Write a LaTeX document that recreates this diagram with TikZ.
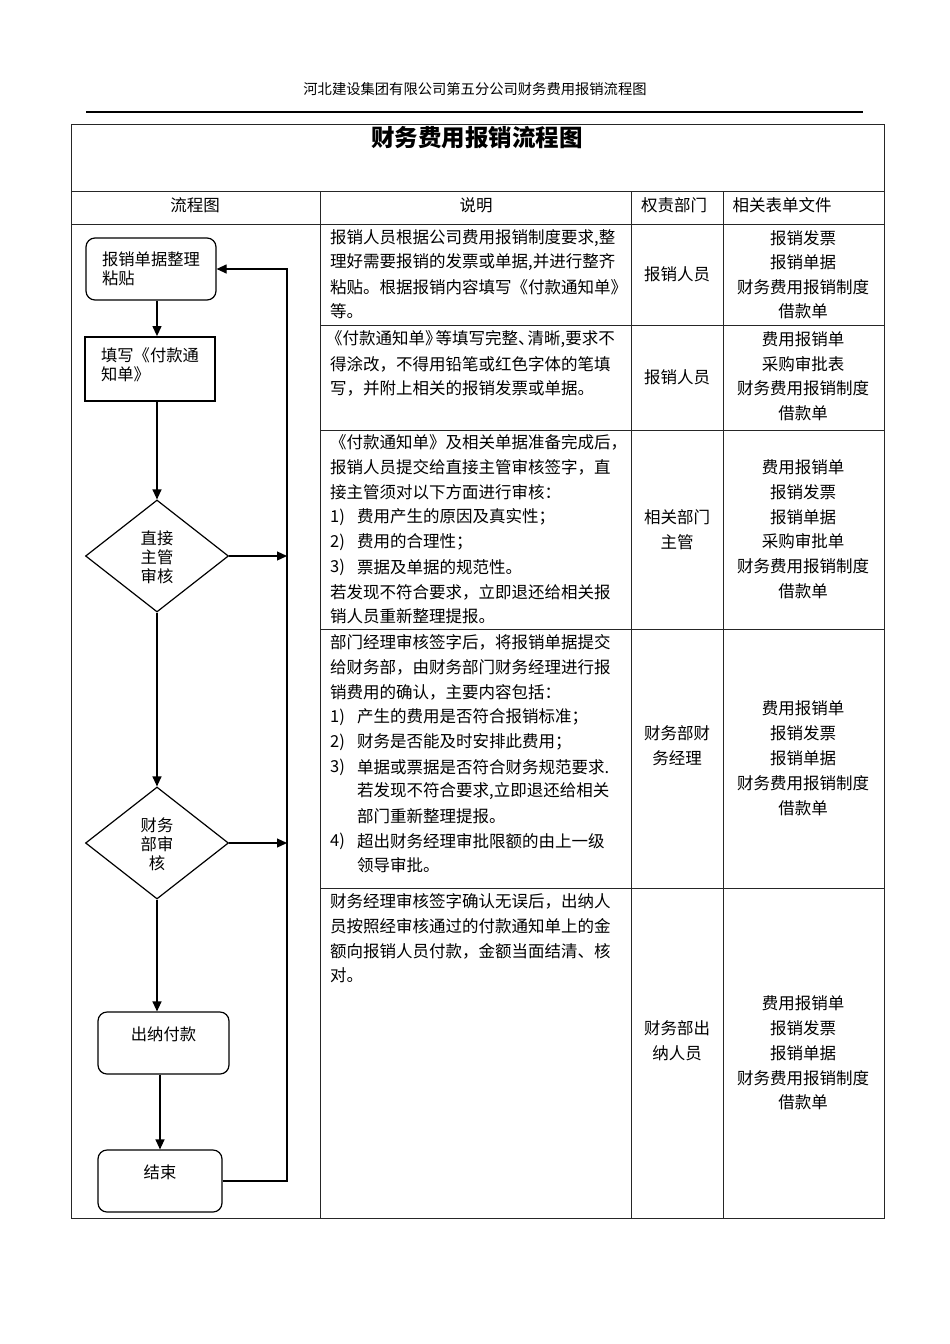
\documentclass[tikz,border=0pt]{standalone}
\usepackage{fontspec}
\setmainfont{Noto Sans CJK SC}
\usetikzlibrary{shapes.geometric,arrows.meta}
\newcommand\fsbody{\fontsize{16.5}{25}\selectfont}
\newcommand\fsflow{\fontsize{16.3}{19}\selectfont}
\newcommand\dline[4]{\node[txt] (#1) at (#2,#3) {#4};}
\newcommand\ctrline[4]{\node[ctr] (#1) at (#2,#3) {#4};}
\begin{document}
\begin{tikzpicture}[x=1pt,y=-1pt,
  txt/.style={anchor=west,inner sep=0pt,font=\fsbody},
  ctr/.style={anchor=center,inner sep=0pt,font=\fsbody},
  grid/.style={line width=1pt,draw=black!85},
  flowline/.style={line width=1.2pt},
  arr/.style={flowline,-{Triangle[length=10pt,width=9pt]}},
  rbox/.style={draw,rounded corners=9pt,line width=1.2pt,inner sep=0pt,font=\fsflow,align=left},
  sbox/.style={draw,line width=1.8pt,inner sep=0pt,font=\fsflow,align=left},
  dia/.style={draw,diamond,line width=1.2pt,inner sep=0pt,font=\fsflow,align=center,minimum width=143pt,minimum height=112pt}
]
\useasboundingbox[fill=white] (0,0) rectangle (950,1344);

% page header
\node[inner sep=0pt,font=\fontsize{14.3}{16}\selectfont] (pagehead) at (475,89) {河北建设集团有限公司第五分公司财务费用报销流程图};
\draw[line width=1.5pt] (86,112) -- (863,112);

% table
\draw[grid] (71,124) rectangle (884,1218);
\draw[grid] (71,191) -- (884,191);
\draw[grid] (71,224) -- (884,224);
\draw[grid] (320,191) -- (320,1218);
\draw[grid] (631,191) -- (631,1218);
\draw[grid] (723,191) -- (723,1218);
\foreach \yy in {325,430,629,888} \draw[grid] (320,\yy) -- (884,\yy);

\node[inner sep=0pt,font=\fontsize{23.5}{26}\selectfont\bfseries] (title) at (477,138) {财务费用报销流程图};
\ctrline{h1}{195}{205}{流程图}
\ctrline{h2}{476}{205}{说明}
\ctrline{h3}{674}{205}{权责部门}
\ctrline{h4}{782}{205}{相关表单文件}

% row 1
\dline{a1}{330}{238}{报销人员根据公司费用报销制度要求,整}
\dline{a2}{330}{262}{理好需要报销的发票或单据,并进行整齐}
\dline{a3}{330}{287}{粘贴。根据报销内容填写《付款通知单》}
\dline{a4}{330}{311}{等。}
\ctrline{ar}{677}{274}{报销人员}
\ctrline{af1}{803}{238}{报销发票}
\ctrline{af2}{803}{262}{报销单据}
\ctrline{af3}{803}{287}{财务费用报销制度}
\ctrline{af4}{803}{311}{借款单}

% row 2
\dline{b1t}{330}{339}{\hspace{-4pt}《付款通知单》\hspace{-6pt}等填写完整、\hspace{-7pt}清晰,要求不}
\dline{b2t}{330}{364}{得涂改，不得用铅笔或红色字体的笔填}
\dline{b3t}{330}{388}{写，并附上相关的报销发票或单据。}
\ctrline{br}{677}{377}{报销人员}
\ctrline{bf1}{803}{339}{费用报销单}
\ctrline{bf2}{803}{364}{采购审批表}
\ctrline{bf3}{803}{388}{财务费用报销制度}
\ctrline{bf4}{803}{413}{借款单}

% row 3
\dline{c1}{330}{442}{《付款通知单》及相关单据准备完成后，}
\dline{c2}{330}{467}{报销人员提交给直接主管审核签字，直}
\dline{c3}{330}{492}{接主管须对以下方面进行审核：}
\dline{c4}{330}{517}{1)}
\dline{c4b}{357}{517}{费用产生的原因及真实性；}
\dline{c5}{330}{542}{2)}
\dline{c5b}{357}{542}{费用的合理性；}
\dline{c6}{330}{567}{3)}
\dline{c6b}{357}{567}{票据及单据的规范性。}
\dline{c7}{330}{592}{若发现不符合要求，立即退还给相关报}
\dline{c8}{330}{616}{销人员重新整理提报。}
\ctrline{cr1}{677}{517}{相关部门}
\ctrline{cr2}{677}{542}{主管}
\ctrline{cf1}{803}{467}{费用报销单}
\ctrline{cf2}{803}{492}{报销发票}
\ctrline{cf3}{803}{517}{报销单据}
\ctrline{cf4}{803}{541}{采购审批单}
\ctrline{cf5}{803}{566}{财务费用报销制度}
\ctrline{cf6}{803}{591}{借款单}

% row 4
\dline{d1}{330}{642}{部门经理审核签字后，将报销单据提交}
\dline{d2}{330}{667}{给财务部，由财务部门财务经理进行报}
\dline{d3}{330}{692}{销费用的确认，主要内容包括：}
\dline{d4}{330}{717}{1)}
\dline{d4b}{357}{717}{产生的费用是否符合报销标准；}
\dline{d5}{330}{742}{2)}
\dline{d5b}{357}{742}{财务是否能及时安排此费用；}
\dline{d6}{330}{767}{3)}
\dline{d6b}{357}{767}{单据或票据是否符合财务规范要求.}
\dline{d7}{357}{791}{若发现不符合要求,立即退还给相关}
\dline{d8}{357}{816}{部门重新整理提报。}
\dline{d9}{330}{841}{4)}
\dline{d9b}{357}{841}{超出财务经理审批限额的由上一级}
\dline{d10}{357}{865}{领导审批。}
\ctrline{dr1}{677}{733}{财务部财}
\ctrline{dr2}{677}{758}{务经理}
\ctrline{df1}{803}{708}{费用报销单}
\ctrline{df2}{803}{733}{报销发票}
\ctrline{df3}{803}{758}{报销单据}
\ctrline{df4}{803}{783}{财务费用报销制度}
\ctrline{df5}{803}{808}{借款单}

% row 5
\dline{e1}{330}{901}{财务经理审核签字确认无误后，出纳人}
\dline{e2}{330}{926}{员按照经审核通过的付款通知单上的金}
\dline{e3}{330}{951}{额向报销人员付款，金额当面结清、核}
\dline{e4}{330}{975}{对。}
\ctrline{er1}{677}{1028}{财务部出}
\ctrline{er2}{677}{1053}{纳人员}
\ctrline{ef1}{803}{1003}{费用报销单}
\ctrline{ef2}{803}{1028}{报销发票}
\ctrline{ef3}{803}{1053}{报销单据}
\ctrline{ef4}{803}{1078}{财务费用报销制度}
\ctrline{ef5}{803}{1102}{借款单}

% flowchart
\node[rbox,minimum width=130pt,minimum height=62pt] (s1) at (151,269) {报销单据整理\\粘贴};
\node[sbox,minimum width=130pt,minimum height=64pt] (s2) at (150,369) {填写《付款通\\知单》\\[-10pt]\mbox{}};
\node[dia] (q1) at (157,556) {\mbox{}\\[-3pt]直接\\主管\\审核};
\node[dia] (q2) at (157,843) {\mbox{}\\[-2pt]财务\\部审\\核};
\node[rbox,minimum width=131pt,minimum height=62pt,align=center] (pay) at (163.5,1043) {出纳付款\\\mbox{}};
\node[rbox,minimum width=124pt,minimum height=62pt,align=center] (fin) at (160,1181) {结束\\\mbox{}};

\coordinate (rt) at (287,269);
\coordinate (rb) at (287,1181);

\draw[arr] (s1.south -| q1.north) -- (s2.north -| q1.north);
\draw[arr] (s2.south -| q1.north) -- (q1.north);
\draw[arr] (q1.south) -- (q2.north);
\draw[arr] (q2.south) -- (pay.north -| q2.south);
\draw[arr] (pay.south -| fin.north) -- (fin.north);
\draw[arr] (fin.east) -- (rb) -- (rt) -- (s1.east);
\draw[arr] (q1.east) -- (q1.east -| rt);
\draw[arr] (q2.east) -- (q2.east -| rt);
\end{tikzpicture}
\end{document}
